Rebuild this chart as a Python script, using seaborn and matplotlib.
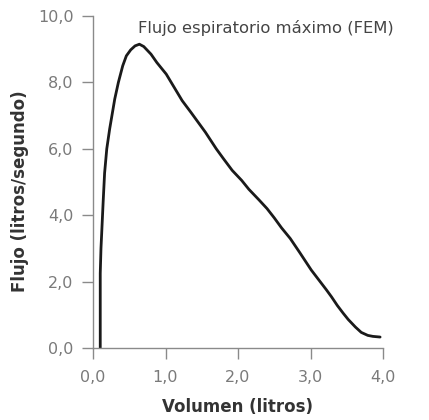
import matplotlib
matplotlib.use("Agg")
import matplotlib.pyplot as plt
import seaborn as sns
import pandas as pd
from matplotlib.ticker import FuncFormatter

volume = [0.10, 0.10, 0.11, 0.12, 0.14, 0.16, 0.19, 0.23, 0.30, 0.35, 0.41, 0.46,
          0.52, 0.58, 0.64, 0.70, 0.80, 0.88, 1.01, 1.12, 1.23, 1.35, 1.45, 1.55,
          1.70, 1.80, 1.92, 2.05, 2.15, 2.29, 2.40, 2.50, 2.60, 2.72, 2.85, 3.01,
          3.08, 3.15, 3.22, 3.29, 3.37, 3.45, 3.52, 3.62, 3.70, 3.79, 3.86, 3.96]
flow = [0.0, 2.25, 3.0, 3.46, 4.4, 5.27, 6.0, 6.6, 7.5, 8.0, 8.5, 8.8,
        8.98, 9.1, 9.15, 9.08, 8.85, 8.6, 8.25, 7.85, 7.45, 7.1, 6.8, 6.5,
        6.0, 5.7, 5.35, 5.05, 4.78, 4.46, 4.2, 3.92, 3.62, 3.30, 2.88, 2.35,
        2.15, 1.95, 1.75, 1.54, 1.28, 1.05, 0.86, 0.63, 0.47, 0.38, 0.35, 0.33]
x_ticks = [0, 1, 2, 3, 4]
y_ticks = [0, 2, 4, 6, 8, 10]
title = "Flujo espiratorio máximo (FEM)"
xlabel = "Volumen (litros)"
ylabel = "Flujo (litros/segundo)"

df = pd.DataFrame({"vol": volume, "flow": flow})

sns.set_style("ticks")
plt.rcParams["font.family"] = ["DejaVu Sans"]

fig = plt.figure(figsize=(4.29, 4.20), dpi=100)
ax = fig.add_axes([93/429, 1 - 348/420, 290/429, 332/420])
sns.lineplot(data=df, x="vol", y="flow", sort=False, color="#1a1a1a",
             linewidth=2.0, ax=ax, estimator=None)

ax.set_xlim(0, 4)
ax.set_ylim(0, 10)
ax.set_xticks(x_ticks)
ax.set_yticks(y_ticks)
fmt = FuncFormatter(lambda v, p: f"{v:.1f}".replace(".", ","))
ax.xaxis.set_major_formatter(fmt)
ax.yaxis.set_major_formatter(fmt)

grey = "#8a8a8a"
for s in ["top", "right"]:
    ax.spines[s].set_visible(False)
for s in ["left", "bottom"]:
    ax.spines[s].set_color(grey)
    ax.spines[s].set_linewidth(1.0)
ax.tick_params(axis="both", colors=grey, labelcolor="#7a7a7a", labelsize=11.5,
               length=8, width=1.0, direction="out")
ax.tick_params(axis="x", pad=8)
ax.tick_params(axis="y", pad=6)

ax.set_xlabel(xlabel, fontsize=12, fontweight="bold", color="#333333", labelpad=9)
ax.set_ylabel(ylabel, fontsize=12, fontweight="bold", color="#333333")
ax.yaxis.set_label_coords(-0.222, 0.473)
ax.text(0.62, 9.64, title, fontsize=11.8, color="#444444", ha="left", va="center",
        clip_on=False)

fig.savefig("out.png", dpi=100)
